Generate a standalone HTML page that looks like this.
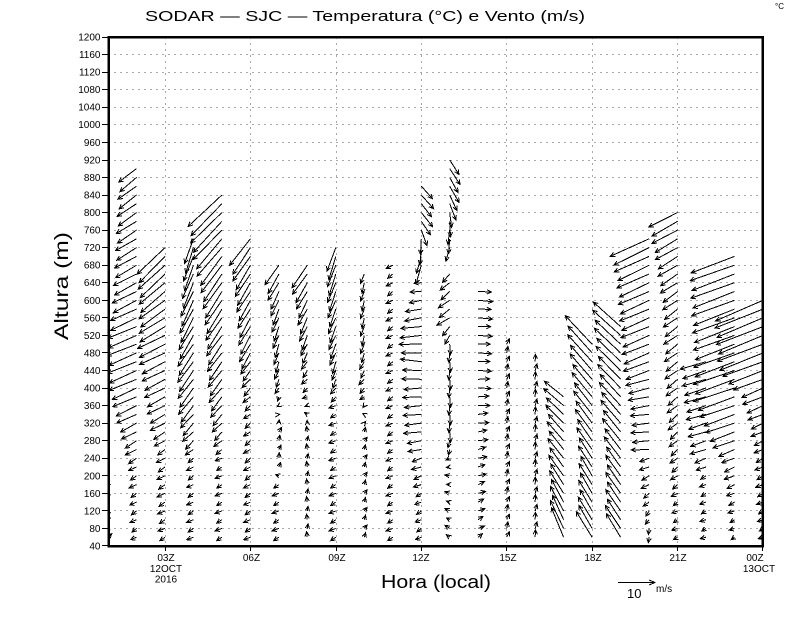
<!DOCTYPE html>
<html>
<head>
<meta charset="utf-8">
<style>
  html,body{margin:0;padding:0;background:#fff;}
  svg{display:block;}
  text{font-family:"Liberation Sans",sans-serif;fill:#000;}
</style>
</head>
<body>
<svg id="c" xmlns="http://www.w3.org/2000/svg" width="800" height="618" viewBox="0 0 800 618">
  <rect x="0" y="0" width="800" height="618" fill="#fff"/>
  <defs>
    <clipPath id="clip"><rect x="109" y="38" width="654" height="507"/></clipPath>
  </defs>

  <!-- title -->
  <text x="145" y="21" font-size="15" textLength="440" lengthAdjust="spacingAndGlyphs">SODAR  —  SJC  —  Temperatura (°C) e Vento (m/s)</text>
  <text x="775" y="9" font-size="8">°C</text>

  <!-- grid -->
  <path stroke="#a8a8a8" stroke-width="1" stroke-dasharray="2,4" fill="none" shape-rendering="crispEdges"
    d="M108 528.5H763M108 510.5H763M108 493.5H763M108 475.5H763M108 458.5H763M108 440.5H763M108 423.5H763M108 405.5H763M108 388.5H763M108 370.5H763M108 352.5H763M108 335.5H763M108 317.5H763M108 300.5H763M108 282.5H763M108 265.5H763M108 247.5H763M108 230.5H763M108 212.5H763M108 195.5H763M108 177.5H763M108 160.5H763M108 142.5H763M108 124.5H763M108 107.5H763M108 89.5H763M108 72.5H763M108 54.5H763
       M165.5 37V546M250.5 37V546M336.5 37V546M421.5 37V546M506.5 37V546M592.5 37V546M677.5 37V546"/>

  <!-- arrows -->
  <path id="arr" clip-path="url(#clip)" stroke="#000" stroke-width="1" fill="none" shape-rendering="crispEdges" d=""/>

  <!-- frame -->
  <rect x="108.5" y="37" width="654" height="509" fill="none" stroke="#000" stroke-width="2.5" shape-rendering="crispEdges"/>

  <!-- ticks -->
  <path stroke="#000" stroke-width="1" shape-rendering="crispEdges"
    d="M102 37.5H108M102 54.5H108M102 72.5H108M102 89.5H108M102 107.5H108M102 124.5H108M102 142.5H108M102 160.5H108M102 177.5H108M102 195.5H108M102 212.5H108M102 230.5H108M102 247.5H108M102 265.5H108M102 282.5H108M102 300.5H108M102 317.5H108M102 335.5H108M102 352.5H108M102 370.5H108M102 388.5H108M102 405.5H108M102 423.5H108M102 440.5H108M102 458.5H108M102 475.5H108M102 493.5H108M102 510.5H108M102 528.5H108M102 545.5H108
       M165.5 546V551M250.5 546V551M336.5 546V551M421.5 546V551M506.5 546V551M592.5 546V551M677.5 546V551M762.5 546V551"/>

  <!-- y labels -->
  <g font-size="10" text-anchor="end">
    <text x="100.5" y="40.5">1200</text>
    <text x="100.5" y="58">1160</text>
    <text x="100.5" y="75.6">1120</text>
    <text x="100.5" y="93.1">1080</text>
    <text x="100.5" y="110.7">1040</text>
    <text x="100.5" y="128.2">1000</text>
    <text x="100.5" y="145.8">960</text>
    <text x="100.5" y="163.4">920</text>
    <text x="100.5" y="180.9">880</text>
    <text x="100.5" y="198.5">840</text>
    <text x="100.5" y="216">800</text>
    <text x="100.5" y="233.6">760</text>
    <text x="100.5" y="251.1">720</text>
    <text x="100.5" y="268.7">680</text>
    <text x="100.5" y="286.2">640</text>
    <text x="100.5" y="303.8">600</text>
    <text x="100.5" y="321.3">560</text>
    <text x="100.5" y="338.9">520</text>
    <text x="100.5" y="356.4">480</text>
    <text x="100.5" y="374">440</text>
    <text x="100.5" y="391.5">400</text>
    <text x="100.5" y="409.1">360</text>
    <text x="100.5" y="426.6">320</text>
    <text x="100.5" y="444.2">280</text>
    <text x="100.5" y="461.7">240</text>
    <text x="100.5" y="479.3">200</text>
    <text x="100.5" y="496.8">160</text>
    <text x="100.5" y="514.4">120</text>
    <text x="100.5" y="531.9">80</text>
    <text x="100.5" y="549.5">40</text>
  </g>

  <!-- x labels -->
  <g font-size="10" text-anchor="middle">
    <text x="166" y="561">03Z</text>
    <text x="166" y="572">12OCT</text>
    <text x="166" y="582.5">2016</text>
    <text x="251.5" y="561">06Z</text>
    <text x="337" y="561">09Z</text>
    <text x="421" y="561">12Z</text>
    <text x="508" y="561">15Z</text>
    <text x="593" y="561">18Z</text>
    <text x="678" y="561">21Z</text>
    <text x="755" y="561">00Z</text>
    <text x="759" y="572">13OCT</text>
  </g>

  <!-- axis titles -->
  <text x="381" y="588" font-size="18" textLength="110" lengthAdjust="spacingAndGlyphs">Hora (local)</text>
  <text transform="translate(68,340) rotate(-90)" font-size="19" textLength="108" lengthAdjust="spacingAndGlyphs">Altura (m)</text>

  <!-- legend -->
  <path stroke="#000" stroke-width="1" fill="none" shape-rendering="crispEdges" d="M618 582.5H655M649 580L655 582.5L649 585"/>
  <text x="627" y="598" font-size="13">10</text>
  <text x="656" y="592" font-size="10">m/s</text>
</svg>

<script>
(function(){
  function yOf(h){return 546-(h-40)*0.43879;}
  var cols=[
    [0,[[60,440,[[60,3,-4],[200,-3,3],[300,-10,6],[440,-20,10]]]]],
    [1,[[60,900,[[60,-5,3],[220,-7,4],[280,-12,7],[330,-18,9],[400,-25,11],[440,-28,12],[520,-29,12],[600,-24,12],[700,-21,12],[800,-19,13],[900,-17,14]]]]],
    [2,[[60,720,[[60,-6,3],[260,-8,5],[300,-12,7],[360,-17,9],[440,-22,11],[510,-27,13],[560,-25,16],[640,-25,22],[720,-27,27]]]]],
    [3,[[60,740,[[60,-6,3],[240,-6,4],[300,-10,10],[380,-14,18],[480,-15,22],[600,-12,25],[740,-8,25]]]]],
    [4,[[60,840,[[60,-6,3],[240,-6,3],[300,-8,8],[400,-12,15],[500,-14,20],[600,-16,25],[680,-20,28],[760,-28,30],[840,-33,32]]]]],
    [5,[[60,740,[[60,-6,3],[360,-6,5],[440,-8,10],[500,-10,18],[600,-12,20],[680,-15,24],[740,-20,27]]]]],
    [6,[[60,680,[[60,-6,3],[180,-6,3],[220,1,-5],[300,2,-5],[400,-3,6],[480,-4,12],[600,-7,16],[680,-13,20]]]]],
    [7,[[60,680,[[60,0,-5],[300,0,-5],[400,-5,4],[460,-5,8],[520,-6,14],[620,-10,18],[680,-16,22]]]]],
    [8,[[60,720,[[60,-6,3],[360,-6,3],[440,-3,10],[500,-6,14],[600,-7,18],[720,-8,24]]]]],
    [9,[[60,660,[[60,2,-4],[300,2,-4],[400,-5,5],[500,-3,10],[660,-3,10]]]]],
    [10,[[60,680,[[60,-6,3],[680,-6,4]]]]],
    [11,[[60,640,[[60,-5,3],[160,-6,3],[240,-10,3],[300,-17,2],[400,-18,1],[460,-20,-2],[520,-22,2],[580,-15,3],[640,-8,0]]],
         [680,860,[[680,-6,18],[740,0,16],[780,10,14],[860,12,13]]]]],
    [12,[[60,660,[[60,-4,-3],[220,-4,0],[300,0,10],[500,0,10],[560,-12,8],[660,-8,8]]],
         [720,920,[[720,-3,14],[780,0,15],[840,8,16],[920,10,15]]]]],
    [13,[[60,620,[[60,5,-3],[250,8,-2],[400,12,0],[620,14,1]]]]],
    [14,[[60,500,[[60,2,-6],[500,2,-6]]]]],
    [15,[[60,460,[[60,1,-7],[460,1,-7]]]]],
    [16,[[60,380,[[60,-13,-30],[100,-12,-25],[200,-14,-20],[300,-16,-18],[380,-20,-16]]]]],
    [17,[[60,500,[[60,-15,-25],[100,-13,-22],[200,-12,-20],[300,-16,-22],[400,-20,-24],[500,-26,-28]]]]],
    [18,[[60,540,[[60,-15,-24],[100,-14,-21],[200,-14,-20],[300,-18,-22],[400,-22,-23],[540,-28,-25]]]]],
    [19,[[60,740,[[60,0,6],[100,-3,5],[200,-8,4],[240,-10,3],[260,-17,1],[340,-18,2],[400,-21,5],[460,-25,10],[560,-28,12],[680,-32,15],[740,-38,18]]]]],
    [20,[[60,800,[[60,-5,2],[140,-5,3],[300,-8,7],[450,-12,9],[600,-14,10],[700,-20,12],[800,-28,15]]]]],
    [21,[[60,460,[[60,-5,2],[200,-6,3],[260,-15,5],[360,-20,6],[460,-25,8]]]]],
    [22,[[60,700,[[60,-4,2],[160,-7,3],[240,-12,5],[300,-25,9],[400,-40,14],[500,-40,15],[600,-42,16],[700,-44,16]]]]],
    [23,[[60,600,[[60,-4,2],[260,-8,4],[340,-14,6],[400,-22,9],[440,-35,13],[480,-44,17],[600,-48,20]]]]]
  ];
  function interp(kp,h){
    if(h<=kp[0][0]) return [kp[0][1],kp[0][2]];
    for(var i=1;i<kp.length;i++){
      if(h<=kp[i][0]){
        var a=kp[i-1],b=kp[i],t=(h-a[0])/(b[0]-a[0]);
        return [a[1]+t*(b[1]-a[1]),a[2]+t*(b[2]-a[2])];
      }
    }
    var l=kp[kp.length-1]; return [l[1],l[2]];
  }
  function f(v){return v.toFixed(1);}
  var d='';
  for(var c=0;c<cols.length;c++){
    var k=cols[c][0], segs=cols[c][1];
    var x0=108+k*28.478;
    for(var s=0;s<segs.length;s++){
      var h0=segs[s][0],h1=segs[s][1],kp=segs[s][2];
      for(var h=h0;h<=h1;h+=20){
        var v=interp(kp,h);
        var j=(((h/20)+k)%2)?1:-1;
        var dx=v[0]+j*0.8, dy=v[1]+j*0.5;
        var y0=yOf(h);
        var x1=x0+dx, y1=y0+dy;
        if(Math.sqrt(dx*dx+dy*dy)<0.5) continue;
        var a=Math.atan2(dy,dx), hl=5, th=0.45;
        d+='M'+f(x0)+' '+f(y0)+'L'+f(x1)+' '+f(y1)+
           'M'+f(x1-hl*Math.cos(a-th))+' '+f(y1-hl*Math.sin(a-th))+
           'L'+f(x1)+' '+f(y1)+
           'L'+f(x1-hl*Math.cos(a+th))+' '+f(y1-hl*Math.sin(a+th));
      }
    }
  }
  document.getElementById('arr').setAttribute('d',d);
})();
</script>
</body>
</html>
